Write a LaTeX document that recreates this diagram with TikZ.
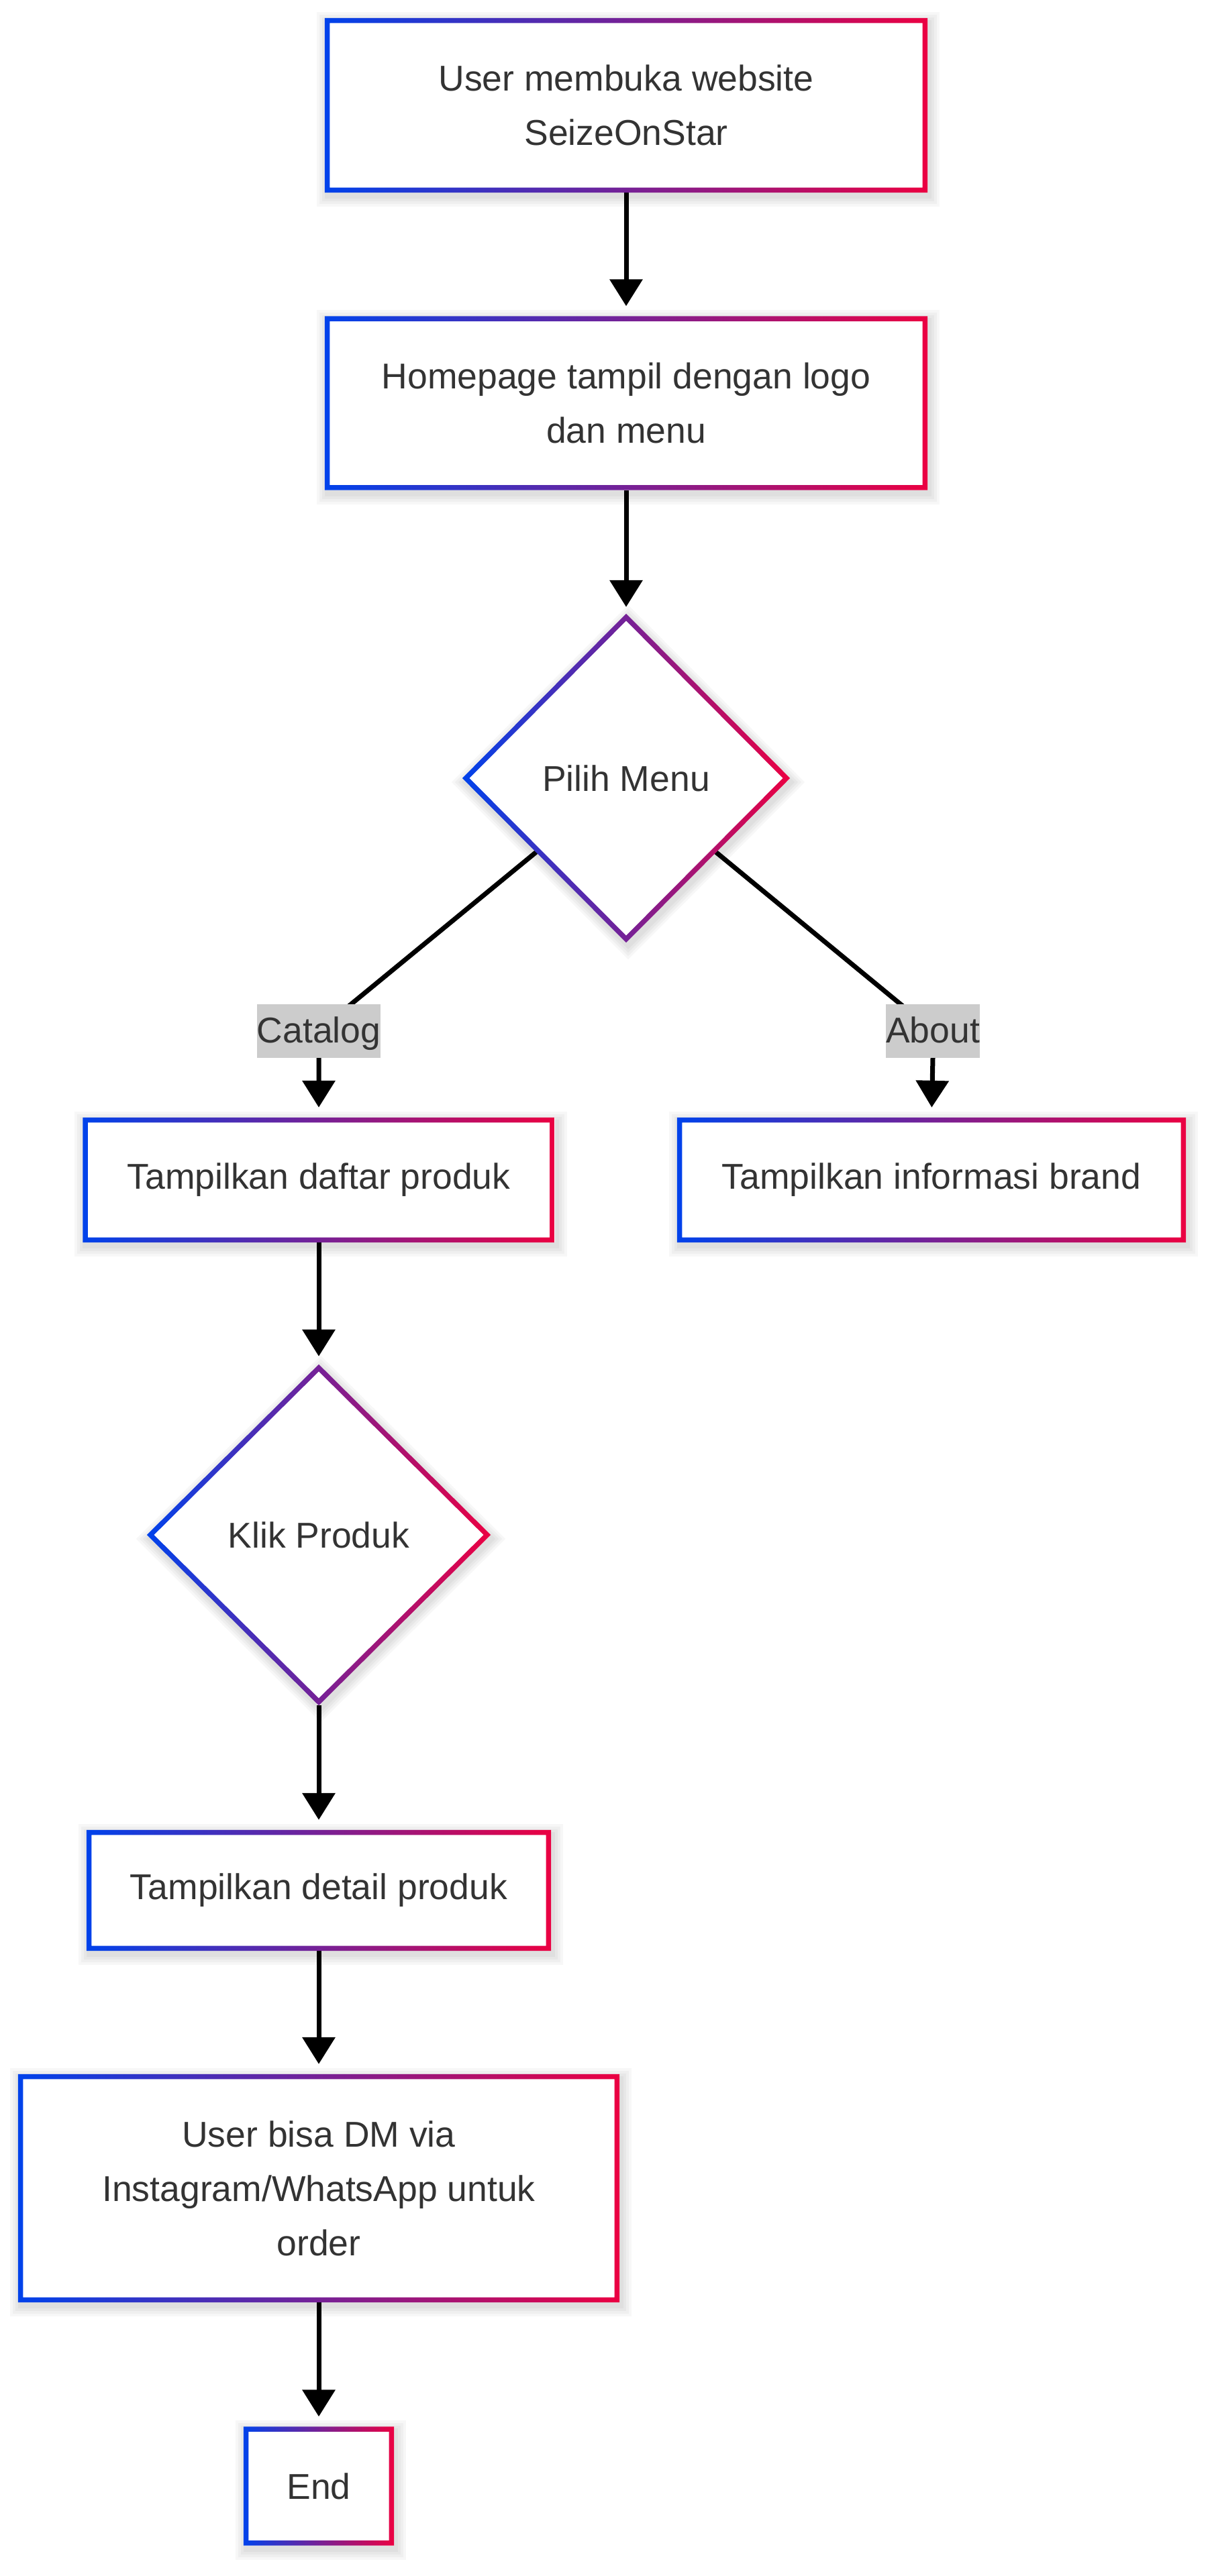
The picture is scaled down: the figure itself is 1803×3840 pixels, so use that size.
\documentclass[tikz,border=0pt]{standalone}
\usepackage{fontspec}
\setmainfont{Liberation Sans}
\usetikzlibrary{shapes.geometric,arrows.meta,calc}
\definecolor{gL}{HTML}{0042EB}
\definecolor{gR}{HTML}{EB0042}
\definecolor{txt}{HTML}{333333}
\definecolor{lblgray}{HTML}{CCCCCC}
\pgfdeclarelayer{back}
\pgfdeclarelayer{shad}
\pgfdeclarelayer{bg}
\pgfsetlayers{back,shad,bg,main}
\newcommand{\nodefont}{\fontsize{53.5}{81}\selectfont}
\tikzset{
  conn/.style={line width=7pt, draw=black, -{Triangle[length=40pt,width=48pt]}, shorten >=15pt},
  boxnode/.style={rectangle, fill=white, inner sep=0pt, align=center, text=txt, font=\nodefont},
  dnode/.style={diamond, aspect=1, fill=white, inner sep=0pt, align=center, text=txt, font=\nodefont},
  lbl/.style={rectangle, fill=lblgray, inner xsep=0pt, inner ysep=0pt, text height=57pt, text depth=23pt, text=txt, font=\nodefont},
  ring/.style={left color=gL, right color=gR, even odd rule},
  shadowfill/.style={fill=black, opacity=0.03}
}
\newcommand{\gradbox}[1]{%
  \begin{pgfonlayer}{shad}
    \foreach \r in {3,7,11,15}{
      \fill[shadowfill] ($(#1.north west)+(3-\r,6-\r)$) rectangle ($(#1.south east)+(3+\r,6+\r)$);
    }
  \end{pgfonlayer}
  \shade[ring] (#1.north west) rectangle (#1.south east)
    ($(#1.north west)+(7.5,7.5)$) rectangle ($(#1.south east)+(-7.5,-7.5)$);}
\newcommand{\graddiam}[1]{%
  \begin{pgfonlayer}{shad}
    \foreach \r in {4,9,14,19}{
      \fill[shadowfill] ($(#1.north)+(3,6-\r)$) -- ($(#1.east)+(3+\r,6)$) -- ($(#1.south)+(3,6+\r)$) -- ($(#1.west)+(3-\r,6)$) -- cycle;
    }
  \end{pgfonlayer}
  \shade[ring] (#1.north) -- (#1.east) -- (#1.south) -- (#1.west) -- cycle
    ($(#1.north)+(0,10.6)$) -- ($(#1.east)+(-10.6,0)$) -- ($(#1.south)+(0,-10.6)$) -- ($(#1.west)+(10.6,0)$) -- cycle;}
\begin{document}
\begin{tikzpicture}[x=1pt,y=-1pt]
\useasboundingbox (0,0) rectangle (1803,3840);
\begin{pgfonlayer}{back}
  \fill[white] (0,0) rectangle (1803,3840);
\end{pgfonlayer}

\node[boxnode, minimum width=898pt, minimum height=260pt] (b1) at (933,157) {User membuka website\\SeizeOnStar};
\node[boxnode, minimum width=898pt, minimum height=259pt] (b2) at (933,601) {Homepage tampil dengan logo\\dan menu};
\node[dnode, minimum width=488pt, minimum height=490pt] (d1) at (933,1160) {Pilih Menu};
\node[lbl] (lc) at (475,1537) {Catalog};
\node[lbl] (la) at (1390,1537) {About};
\node[boxnode, minimum width=703pt, minimum height=186pt] (b3) at (475,1759) {Tampilkan daftar produk};
\node[boxnode, minimum width=758pt, minimum height=186pt] (b4) at (1388,1759) {Tampilkan informasi brand};
\node[dnode, minimum width=512pt, minimum height=508pt] (d2) at (475,2288) {Klik Produk};
\node[boxnode, minimum width=692pt, minimum height=180pt] (b5) at (475,2818) {Tampilkan detail produk};
\node[boxnode, minimum width=896pt, minimum height=340pt] (b6) at (475,3262) {User bisa DM via\\Instagram/WhatsApp untuk\\order};
\node[boxnode, minimum width=224pt, minimum height=177pt] (b7) at (475,3706) {End};

\gradbox{b1}\gradbox{b2}\gradbox{b3}\gradbox{b4}\gradbox{b5}\gradbox{b6}\gradbox{b7}
\graddiam{d1}\graddiam{d2}

\coordinate (cl) at (523,1497);
\coordinate (ca) at (1342,1497);

\begin{pgfonlayer}{bg}
  \draw[conn, shorten >=15pt] (b1.south) -- (b2.north);
  \draw[conn, shorten >=10pt] (b2.south) -- (d1.north);
  \draw[conn] (d1.center) -- (cl) .. controls ($(lc.south)+(0,-40)$) .. (lc.south) -- (b3.north);
  \draw[conn] (d1.center) -- (ca) .. controls ($(la.south)+(0,-40)$) .. (la.south) -- (b4.north);
  \draw[conn, shorten >=12pt] (b3.south) -- (d2.north);
  \draw[conn] (d2.south) -- (b5.north);
  \draw[conn] (b5.south) -- (b6.north);
  \draw[conn] (b6.south) -- (b7.north);
\end{pgfonlayer}
\end{tikzpicture}
\end{document}
